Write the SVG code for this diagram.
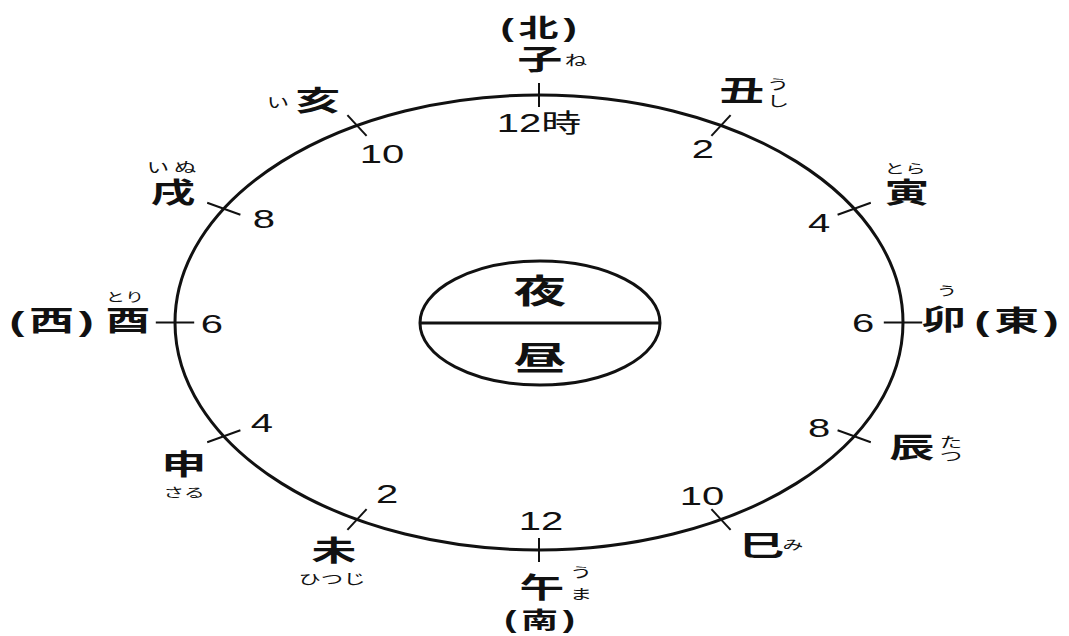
<svg xmlns="http://www.w3.org/2000/svg" width="1069" height="636" viewBox="0 0 1069 636">
<style>
.t{font-family:"Liberation Sans","Noto Sans CJK JP",sans-serif;text-anchor:middle;fill:#111;transform-box:fill-box;transform-origin:center;transform:scaleX(1.6)}
.k{font-size:28px;font-weight:bold}
.n{font-size:25px}
.f{font-size:14px}
.d{font-size:25px;font-weight:bold;letter-spacing:3px}
.c{font-size:33px;font-weight:bold}
.ln{fill:none;stroke:#111;stroke-width:3}
.tk{stroke:#111;stroke-width:2}
</style>
<rect width="1069" height="636" fill="#fff"/>
<g id="dial">
<ellipse class="ln" cx="539" cy="322.5" rx="364" ry="227.5" stroke-width="4"/>
</g>
<g id="center">
<ellipse class="ln" cx="540" cy="323" rx="120" ry="62"/>
<line class="ln" x1="420" y1="323" x2="660" y2="323"/>
<text class="t c" x="540" y="303">夜</text>
<text class="t c" x="540" y="370">昼</text>
</g>
<g id="connectors">
<line class="tk" x1="539" y1="83" x2="539" y2="107"/>
<line class="tk" x1="711.4" y1="135.9" x2="730.6" y2="115.1"/>
<line class="tk" x1="837.6" y1="214.75" x2="870.8" y2="202.75"/>
<line class="tk" x1="883.8" y1="322.5" x2="922.2" y2="322.5"/>
<line class="tk" x1="837.6" y1="430.25" x2="870.8" y2="442.25"/>
<line class="tk" x1="711.4" y1="509.1" x2="730.6" y2="529.9"/>
<line class="tk" x1="539" y1="538" x2="539" y2="562"/>
<line class="tk" x1="366.6" y1="509.1" x2="347.4" y2="529.9"/>
<line class="tk" x1="240.4" y1="430.25" x2="207.2" y2="442.25"/>
<line class="tk" x1="155.8" y1="322.5" x2="194.2" y2="322.5"/>
<line class="tk" x1="207.2" y1="202.75" x2="240.4" y2="214.75"/>
<line class="tk" x1="347.4" y1="115.1" x2="366.6" y2="135.9"/>
</g>
<g id="ne">
<text class="t d" x="541" y="37">(北)</text>
<text class="t k" x="540" y="70">子</text>
<text class="t f" x="576" y="65">ね</text>
<text class="t n" x="539" y="132">12時</text>
</g>
<g id="ushi">
<text class="t k" x="742" y="101">丑</text>
<text class="t f" x="778" y="89">う</text>
<text class="t f" x="778" y="106">し</text>
<text class="t n" x="703" y="158">2</text>
</g>
<g id="tora">
<text class="t k" x="907" y="203">寅</text>
<text class="t f" x="905" y="173" style="font-size:13px">とら</text>
<text class="t n" x="819" y="232">4</text>
</g>
<g id="u">
<text class="t k" x="944" y="330">卯</text>
<text class="t f" x="947" y="295" style="font-size:13px">う</text>
<text class="t k" x="1019" y="331" style="letter-spacing:3px">(東)</text>
<text class="t n" x="863" y="332">6</text>
</g>
<g id="tatsu">
<text class="t k" x="912" y="458">辰</text>
<text class="t f" x="951" y="447">た</text>
<text class="t f" x="951" y="461">つ</text>
<text class="t n" x="819" y="437">8</text>
</g>
<g id="mi">
<text class="t k" x="762" y="556">巳</text>
<text class="t f" x="793" y="549" style="font-size:13px">み</text>
<text class="t n" x="702" y="505">10</text>
</g>
<g id="uma">
<text class="t k" x="542" y="598">午</text>
<text class="t f" x="581" y="577">う</text>
<text class="t f" x="581" y="599">ま</text>
<text class="t d" x="542" y="628" style="font-size:23px">(南)</text>
<text class="t n" x="541" y="530">12</text>
</g>
<g id="hitsuji">
<text class="t k" x="334" y="561">未</text>
<text class="t f" x="332" y="584">ひつじ</text>
<text class="t n" x="387" y="503">2</text>
</g>
<g id="saru">
<text class="t k" x="184" y="475">申</text>
<text class="t f" x="184" y="497" style="font-size:13px">さる</text>
<text class="t n" x="262" y="432">4</text>
</g>
<g id="tori">
<text class="t k" x="128" y="331">酉</text>
<text class="t f" x="125" y="302" style="font-size:12px">とり</text>
<text class="t k" x="54" y="331" style="letter-spacing:3px">(西)</text>
<text class="t n" x="212" y="333">6</text>
</g>
<g id="inu">
<text class="t k" x="173" y="203">戌</text>
<text class="t f" x="174" y="172" style="letter-spacing:3px">いぬ</text>
<text class="t n" x="264" y="228">8</text>
</g>
<g id="i">
<text class="t k" x="318" y="111">亥</text>
<text class="t f" x="278" y="107">い</text>
<text class="t n" x="382" y="163">10</text>
</g>
</svg>
